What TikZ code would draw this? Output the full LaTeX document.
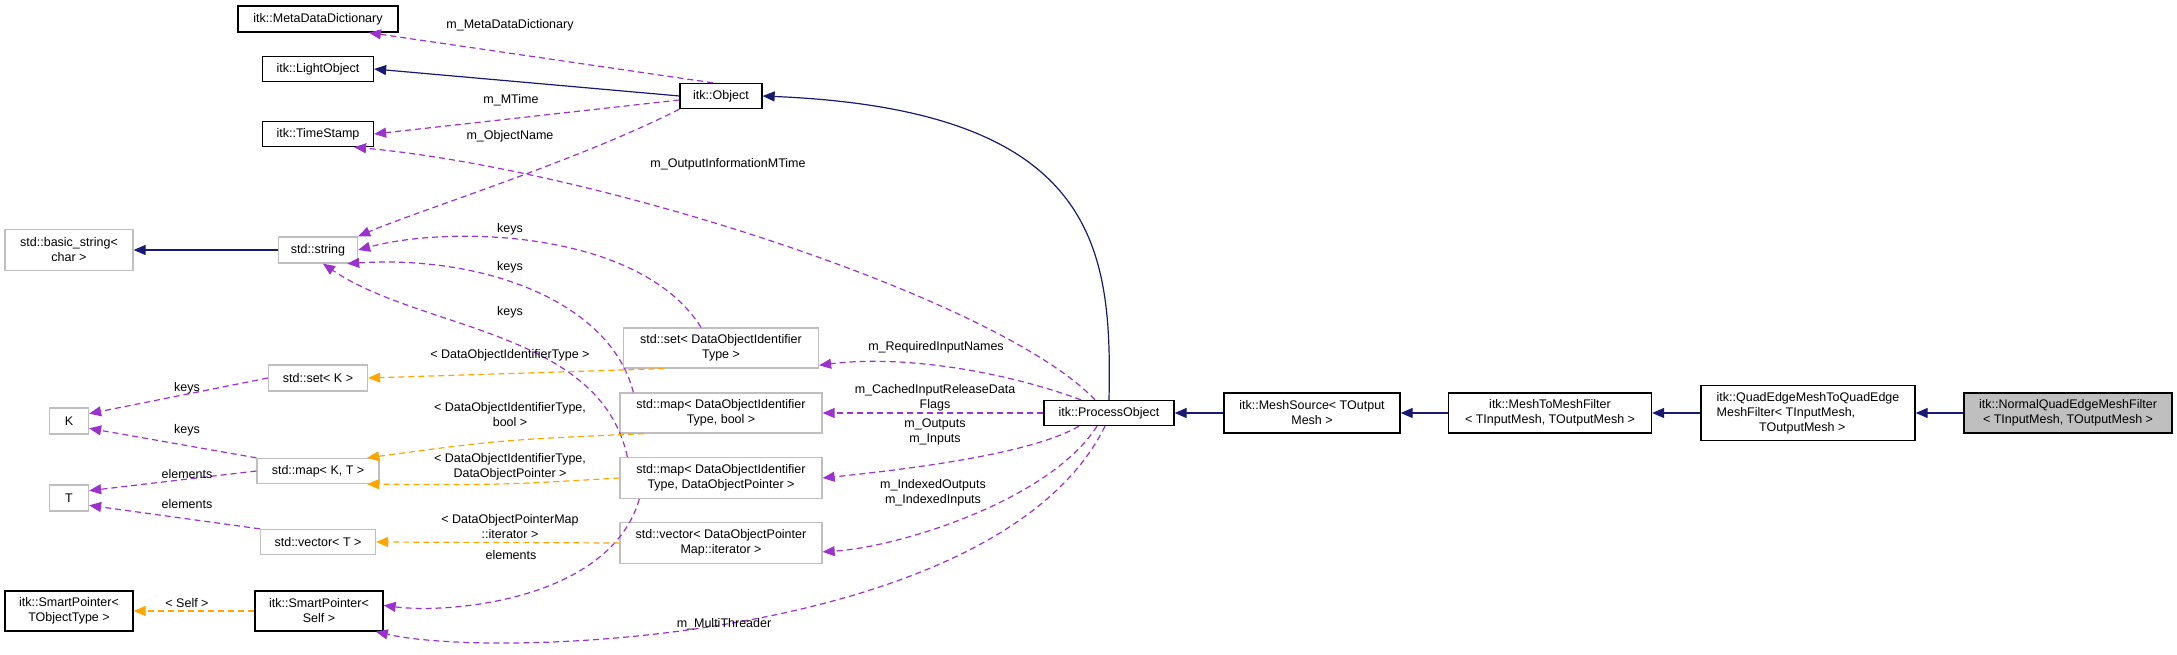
\documentclass[tikz,border=0pt]{standalone}
\usepackage{fontspec}
\setmainfont{Liberation Sans}
\usepackage{tikz}
\usetikzlibrary{arrows.meta, positioning, calc}
\definecolor{inhNavy}{HTML}{191970}
\definecolor{usePurple}{HTML}{9A32CD}
\definecolor{tplOrange}{HTML}{FFA500}
\definecolor{boxGray}{HTML}{BFBFBF}
\tikzset{
    cls/.style={draw=black, line width=1.3pt, inner sep=0pt, align=center, font=\fontsize{12.5}{15}\selectfont},
    ext/.style={cls, draw=boxGray},
    inh/.style={inhNavy, line width=1.2pt, -{Triangle[length=12pt,width=10pt]}},
    use/.style={usePurple, line width=1.2pt, dash pattern=on 6pt off 4pt, -{Triangle[length=12pt,width=10pt]}},
    tpl/.style={tplOrange, line width=1.2pt, dash pattern=on 6pt off 4pt, -{Triangle[length=12pt,width=10pt]}},
    lbl/.style={inner sep=0pt, align=center, font=\fontsize{12.5}{15}\selectfont}
}
\begin{document}
\begin{tikzpicture}[x=1pt, y=-1pt]
        \useasboundingbox (0,0) rectangle (2177,655);
        % Left column
        \node[cls, minimum width=160, minimum height=26] (mdd) at (318,19) {itk::MetaDataDictionary};
        \node[cls, minimum width=111, minimum height=25] (light) at (318,69) {itk::LightObject};
        \node[cls, minimum width=111, minimum height=25] (ts) at (318,134) {itk::TimeStamp};
        \node[ext, minimum width=128, minimum height=41] (bstr) at (69,250) {std::basic\_string<\\char >};
        \node[ext, minimum width=79, minimum height=26] (str) at (318,250) {std::string};
        \node[ext, minimum width=99, minimum height=26] (setk) at (318,378) {std::set< K >};
        \node[ext, minimum width=39, minimum height=26] (kk) at (69,421) {K};
        \node[ext, minimum width=122, minimum height=25] (mapkt) at (318,471) {std::map< K, T >};
        \node[ext, minimum width=39, minimum height=26] (tt) at (69,498) {T};
        \node[ext, minimum width=115, minimum height=25] (vect) at (318,542) {std::vector< T >};
        \node[cls, minimum width=128, minimum height=40] (spt) at (69,611) {itk::SmartPointer<\\TObjectType >};
        \node[cls, minimum width=128, minimum height=40] (sps) at (319,611) {itk::SmartPointer<\\Self >};

        % Middle column
        \node[cls, minimum width=82, minimum height=25] (obj) at (721,96) {itk::Object};
        \node[ext, minimum width=195, minimum height=40] (setdoi) at (721,348) {std::set< DataObjectIdentifier\\Type >};
        \node[ext, minimum width=202, minimum height=40] (mapbool) at (721,413) {std::map< DataObjectIdentifier\\Type, bool >};
        \node[ext, minimum width=202, minimum height=41] (mapdop) at (721,478) {std::map< DataObjectIdentifier\\Type, DataObjectPointer >};
        \node[ext, minimum width=202, minimum height=41] (vecdop) at (721,543) {std::vector< DataObjectPointer\\Map::iterator >};

        % Right row
        \node[cls, minimum width=130, minimum height=25] (po) at (1109,413) {itk::ProcessObject};
        \node[cls, minimum width=176, minimum height=40] (ms) at (1312,413) {itk::MeshSource< TOutput\\Mesh >};
        \node[cls, minimum width=203, minimum height=40] (m2m) at (1550,413) {itk::MeshToMeshFilter\\< TInputMesh, TOutputMesh >};
        \node[cls, minimum width=214, minimum height=55, align=left] (qe) at (1808,413) {itk::QuadEdgeMeshToQuadEdge\\MeshFilter< TInputMesh,\\\hspace*{3.4em}TOutputMesh >};
        \node[cls, fill=boxGray, minimum width=208, minimum height=40] (nq) at (2068,413) {itk::NormalQuadEdgeMeshFilter\\< TInputMesh, TOutputMesh >};

        % Inheritance
        \draw[inh] (nq) -- (qe);
        \draw[inh] (qe) -- (m2m);
        \draw[inh] (m2m) -- (ms);
        \draw[inh] (ms) -- (po);
        \draw[inh] (po.north) .. controls (1112,250) and (1100,110) .. (obj.east);
        \draw[inh] (obj.west) -- (light.east);
        \draw[inh] (str) -- (bstr);

        % Members
        \draw[use] ([xshift=-8pt]obj.north) -- (mdd.-15);
        \draw[use] ([yshift=-4pt]obj.west) -- (ts.east);
        \draw[use] (obj.south west) .. controls (580,160) and (420,210) .. (str.north east);
        \draw[use] ([xshift=-14pt]po.north) .. controls (1000,300) and (600,170) .. (ts.-20);
        \draw[use] ([xshift=-20pt]setdoi.north) .. controls (640,230) and (450,225) .. (str.east);
        \draw[use] ([xshift=14pt]mapbool.north west) .. controls (610,300) and (480,255) .. (str.-25);
        \draw[use] ([xshift=8pt]mapdop.north west) .. controls (600,330) and (420,330) .. (str.-70);
        \draw[use] ([xshift=20pt]mapdop.south west) .. controls (610,600) and (450,614) .. (sps.5);
        \draw[use] (setk.west) -- (kk.20);
        \draw[use] (mapkt.north west) -- (kk.-20);
        \draw[use] (mapkt.west) -- (tt.20);
        \draw[use] (vect.north west) -- (tt.-20);
        \draw[use] ([xshift=-28pt]po.north) .. controls (1000,370) and (900,355) .. (setdoi.-10);
        \draw[use] (po.west) -- (mapbool.east);
        \draw[use] ([xshift=-30pt]po.south) .. controls (1030,455) and (900,470) .. (mapdop.east);
        \draw[use] ([xshift=-12pt]po.south) .. controls (1050,500) and (900,547) .. (vecdop.-5);
        \draw[use] ([xshift=-4pt]po.south) .. controls (1000,640) and (500,660) .. (sps.-20);

        % Template arguments
        \draw[tpl] (setdoi.-160) -- (setk.east);
        \draw[tpl] (mapbool.-165) .. controls (500,440) .. (mapkt.15);
        \draw[tpl] (mapdop.west) .. controls (500,485) .. (mapkt.-15);
        \draw[tpl] (vecdop.west) -- (vect.east);
        \draw[tpl] (sps.west) -- (spt.east);

        % Labels
        \node[lbl] (lmdd) at (510,25) {m\_MetaDataDictionary};
        \node[lbl] (lmt) at (511,100) {m\_MTime};
        \node[lbl] (lon) at (510,136) {m\_ObjectName};
        \node[lbl] (loim) at (728,164) {m\_OutputInformationMTime};
        \node[lbl] (lk1) at (510,229) {keys};
        \node[lbl] (lk2) at (510,267) {keys};
        \node[lbl] (lk3) at (510,312) {keys};
        \node[lbl] (lt1) at (510,355) {< DataObjectIdentifierType >};
        \node[lbl] (lk4) at (187,388) {keys};
        \node[lbl] (lt2) at (510,415) {< DataObjectIdentifierType,\\bool >};
        \node[lbl] (lk5) at (187,430) {keys};
        \node[lbl] (le1) at (187,474) {elements};
        \node[lbl] (lt3) at (510,467) {< DataObjectIdentifierType,\\DataObjectPointer >};
        \node[lbl] (le2) at (187,504) {elements};
        \node[lbl] (lt4) at (510,527) {< DataObjectPointerMap\\::iterator >};
        \node[lbl] (le3) at (511,555) {elements};
        \node[lbl] (lself) at (187,603) {< Self >};
        \node[lbl] (lmth) at (724,624) {m\_MultiThreader};
        \node[lbl] (lrin) at (936,347) {m\_RequiredInputNames};
        \node[lbl] (lcir) at (935,398) {m\_CachedInputReleaseData\\Flags};
        \node[lbl] (lout) at (935,432) {m\_Outputs\\m\_Inputs};
        \node[lbl] (lidx) at (933,493) {m\_IndexedOutputs\\m\_IndexedInputs};
    \end{tikzpicture}
\end{document}
